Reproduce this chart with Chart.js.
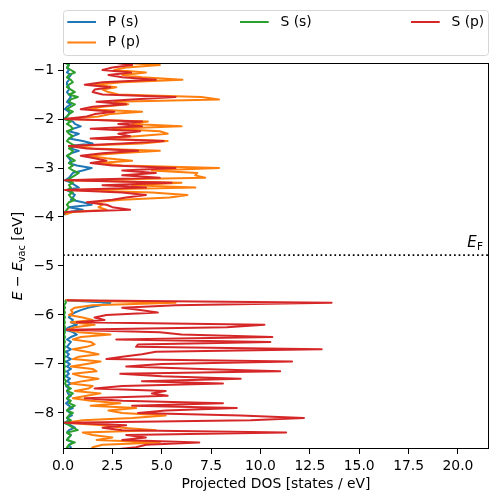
<!DOCTYPE html>
<html>
<head>
<meta charset="utf-8">
<script src="https://cdn.jsdelivr.net/npm/chart.js@4.4.1/dist/chart.umd.min.js"></script>
<style>
  html, body { margin: 0; padding: 0; background: #fff; }
  canvas { display: block; }
</style>
</head>
<body>
<canvas id="dosChart" width="498" height="502"></canvas>
<script>
// Energy grid (eV, relative to vacuum): valence band block, then deeper block
const energy = [
  -0.80, -0.85, -0.90, -0.95, -1.00, -1.05, -1.10, -1.15, -1.20, -1.25,
  -1.30, -1.35, -1.40, -1.45, -1.50, -1.55, -1.60, -1.65, -1.70, -1.75,
  -1.80, -1.85, -1.90, -1.95, -2.00, -2.05, -2.10, -2.15, -2.20, -2.25,
  -2.30, -2.35, -2.40, -2.45, -2.50, -2.55, -2.60, -2.65, -2.70, -2.75,
  -2.80, -2.85, -2.90, -2.95, -3.00, -3.05, -3.10, -3.15, -3.20, -3.25,
  -3.30, -3.35, -3.40, -3.45, -3.50, -3.55, -3.60, -3.65, -3.70, -3.75,
  -3.80, -3.85, -3.90, -3.95,
  -5.70, -5.75, -5.80, -5.85, -5.90, -5.95, -6.00, -6.05, -6.10, -6.15,
  -6.20, -6.25, -6.30, -6.35, -6.40, -6.45, -6.50, -6.55, -6.60, -6.65,
  -6.70, -6.75, -6.80, -6.85, -6.90, -6.95, -7.00, -7.05, -7.10, -7.15,
  -7.20, -7.25, -7.30, -7.35, -7.40, -7.45, -7.50, -7.55, -7.60, -7.65,
  -7.70, -7.75, -7.80, -7.85, -7.90, -7.95, -8.00, -8.05, -8.10, -8.15,
  -8.20, -8.25, -8.30, -8.35, -8.40, -8.45, -8.50, -8.55, -8.60, -8.65,
  -8.70, -8.75, -8.80
];

// P (s)
const pS = [
  0.2, 0.2, 0.3, 0.2, 0.3, 0.2, 0.4, 0.3, 0.3, 0.2,
  0.2, 0.3, 0.3, 0.2, 0.3, 0.4, 0.3, 0.2, 0.4, 0.2,
  0.1, 0.3, 0.3, 0.2, 0.05, 0.5, 0.6, 0.9, 0.5, 0.3,
  0.8, 0.5, 0.3, 1.0, 1.5, 0.3, 0.4, 0.8, 0.4, 0.2,
  0.3, 0.4, 0.3, 0.7, 1.45, 1.0, 0.5, 0.4, 0.3, 0.1,
  0.4, 0.6, 0.8, 0.2, 0.4, 0.6, 0.5, 0.4, 1.0, 1.45,
  0.3, 1.0, 0.3, 0.05,
  0.1, 2.4, 1.9, 1.3, 0.9, 0.6, 0.4, 0.3, 0.5, 0.4,
  0.7, 0.3, 0.1, 0.5, 0.7, 0.4, 0.2, 0.4, 0.3, 0.2,
  0.4, 0.15, 0.3, 0.2, 0.4, 0.15, 0.35, 0.2, 0.4, 0.2,
  0.3, 0.15, 0.35, 0.2, 0.4, 0.15, 0.3, 0.2, 0.25, 0.4,
  0.2, 0.3, 0.15, 0.3, 0.5, 0.2, 0.35, 0.45, 0.2, 0.3,
  0.05, 0.4, 0.6, 0.3, 0.2, 0.4, 0.3, 0.2, 0.5, 0.3,
  0.4, 0.3, 0.2
];

// P (p)
const pP = [
  2.5, 3.0, 4.9, 3.2, 2.6, 4.2, 3.0, 4.0, 6.05, 3.0,
  1.6, 2.7, 2.0, 2.3, 2.8, 7.0, 7.9, 2.6, 3.3, 2.0,
  1.3, 4.0, 2.4, 1.8, 0.2, 4.3, 3.5, 6.0, 2.5, 4.9,
  5.3, 3.7, 1.7, 5.3, 4.0, 0.6, 1.5, 4.9, 2.8, 1.2,
  2.2, 3.5, 1.8, 3.0, 7.9, 4.5, 6.8, 6.7, 7.2, 0.2,
  6.0, 3.5, 6.7, 0.3, 4.5, 6.3, 5.4, 3.0, 1.6, 2.0,
  1.8, 2.2, 0.5, 0.1,
  0.1, 5.7, 1.5, 0.6, 0.4, 0.5, 0.3, 1.0, 1.5, 0.4,
  1.6, 0.6, 0.2, 0.8, 2.4, 0.9, 0.5, 1.4, 1.6, 1.2,
  0.5, 1.2, 1.8, 0.8, 0.5, 1.9, 1.2, 0.4, 1.5, 1.7,
  0.5, 0.9, 1.8, 1.0, 0.4, 1.5, 1.3, 0.6, 1.9, 1.2,
  0.5, 1.4, 2.9, 1.4, 3.7, 2.3, 3.0, 5.2, 3.5, 1.0,
  0.1, 2.0, 3.0, 4.7, 1.0, 1.5, 2.5, 1.7, 4.9, 2.0,
  1.5, 1.4, 1.2
];

// S (s)
const sS = [
  0.2, 0.1, 0.3, 0.2, 0.4, 0.6, 0.3, 0.2, 0.4, 0.5,
  0.3, 0.2, 0.4, 0.6, 0.3, 0.75, 0.4, 0.3, 0.6, 0.4,
  0.2, 0.5, 0.3, 0.2, 0.1, 0.4, 0.2, 0.4, 0.5, 0.2,
  0.3, 0.5, 0.3, 0.2, 0.4, 0.6, 0.3, 0.5, 0.4, 0.2,
  0.4, 0.6, 0.3, 0.5, 0.3, 0.5, 0.8, 0.6, 0.4, 0.2,
  0.5, 0.3, 0.4, 0.2, 0.5, 0.3, 0.4, 0.6, 0.3, 0.2,
  0.3, 0.2, 0.1, 0.05,
  0.1, 0.15, 0.05, 0.1, 0.05, 0.1, 0.05, 0.1, 0.05, 0.1,
  0.05, 0.1, 0.05, 0.1, 0.05, 0.1, 0.05, 0.1, 0.05, 0.1,
  0.05, 0.1, 0.05, 0.1, 0.05, 0.1, 0.05, 0.1, 0.05, 0.1,
  0.05, 0.1, 0.05, 0.15, 0.1, 0.2, 0.4, 0.2, 0.5, 0.3,
  0.2, 0.4, 0.3, 0.6, 0.3, 0.2, 0.5, 0.3, 0.2, 0.4,
  0.1, 0.3, 0.5, 0.75, 0.2, 0.4, 0.3, 0.2, 0.6, 0.3,
  0.2, 0.4, 0.3
];

// S (p)
const sP = [
  2.0, 2.6, 3.5, 2.5, 2.0, 3.45, 2.3, 3.0, 4.7, 2.0,
  1.1, 2.4, 1.6, 1.5, 2.0, 5.7, 3.5, 1.7, 3.2, 1.5,
  0.9, 2.6, 1.6, 1.2, 0.1, 4.0, 2.8, 4.0, 1.4, 3.9,
  2.8, 3.4, 1.4, 5.1, 3.0, 0.3, 1.2, 3.8, 2.0, 0.9,
  1.6, 2.2, 1.4, 2.5, 5.7, 3.0, 4.7, 3.0, 4.9, 0.1,
  5.5, 2.0, 4.2, 0.1, 3.0, 4.2, 3.2, 2.5, 1.2, 2.2,
  2.5, 3.4, 0.1, 0.0,
  0.2, 13.6, 5.7, 3.0, 3.9, 4.8, 2.2, 1.6, 2.1, 0.7,
  10.2, 8.3, 0.2, 4.9, 6.0, 10.6, 2.7, 10.5, 3.8, 3.7,
  13.1, 4.7, 4.0, 3.0, 2.2, 11.6, 5.0, 3.2, 7.0, 11.0,
  2.9, 5.0, 9.0, 4.0, 8.1, 3.0, 1.6, 5.2, 4.5, 5.3,
  1.1, 3.0, 8.1, 3.5, 8.8, 5.2, 3.8, 9.0, 12.2, 9.5,
  0.1, 3.2, 2.0, 3.0, 11.3, 3.2, 4.2, 3.0, 6.9, 4.2,
  3.7, 2.5, 2.0
];

const fermiLevel = -4.78;
const xTicks = [0, 2.5, 5, 7.5, 10, 12.5, 15, 17.5, 20];
const yTicks = [-8, -7, -6, -5, -4, -3, -2, -1];
const xRange = [0, 21.57];
const yRange = [-8.735, -0.857];

const FONT = "'DejaVu Sans', sans-serif";
Chart.defaults.font.family = FONT;
Chart.defaults.color = '#000';

// build {x: DOS, y: E} points; break the line across the gap between blocks
function toPoints(dos) {
  const pts = [];
  energy.forEach((e, i) => {
    if (i > 0 && energy[i - 1] - e > 0.5) pts.push({ x: null, y: null });
    pts.push({ x: dos[i], y: e });
  });
  return pts;
}

const series = [
  { label: 'P (s)', data: pS, color: '#1f77b4', order: 4 },
  { label: 'P (p)', data: pP, color: '#ff7f0e', order: 3 },
  { label: 'S (s)', data: sS, color: '#2ca02c', order: 2 },
  { label: 'S (p)', data: sP, color: '#d62728', order: 1 }
];

const datasets = series.map(s => ({
  label: s.label,
  data: toPoints(s.data),
  borderColor: s.color,
  backgroundColor: s.color,
  borderWidth: 2,
  borderJoinStyle: 'round',
  showLine: true,
  pointRadius: 0,
  spanGaps: false,
  order: s.order
}));

// dotted Fermi level line
datasets.push({
  label: 'EF',
  data: [{ x: xRange[0], y: fermiLevel }, { x: xRange[1], y: fermiLevel }],
  borderColor: '#000',
  borderWidth: 1.7,
  borderDash: [1.7, 2.9],
  showLine: true,
  pointRadius: 0,
  order: 0
});

// legend columns, like matplotlib ncol=3
const legendColumns = [[0, 1], [2], [3]];

const decorations = {
  id: 'decorations',
  afterDraw(chart) {
    const { ctx, chartArea: a } = chart;
    const yScale = chart.scales.y;
    ctx.save();

    // axes frame
    ctx.strokeStyle = '#000';
    ctx.lineWidth = 1;
    ctx.strokeRect(a.left + 0.5, a.top + 0.5, a.right - a.left - 1, a.bottom - a.top - 1);

    // E_F label
    const yF = yScale.getPixelForValue(fermiLevel);
    ctx.fillStyle = '#000';
    ctx.textBaseline = 'alphabetic';
    ctx.font = '10.5px ' + FONT;
    const fW = ctx.measureText('F').width;
    ctx.textAlign = 'left';
    ctx.fillText('F', a.right - 6 - fW, yF - 5.5);
    ctx.font = 'italic 15px ' + FONT;
    ctx.textAlign = 'right';
    ctx.fillText('E', a.right - 6 - fW - 0.3, yF - 8);

    // x axis title
    ctx.font = '13.9px ' + FONT;
    ctx.textAlign = 'center';
    ctx.textBaseline = 'middle';
    ctx.fillText('Projected DOS [states / eV]', (a.left + a.right) / 2, 484.5);

    // y axis title: E − E_vac [eV]
    const parts = [
      { t: 'E', f: 'italic 13.9px ' + FONT, dy: 0 },
      { t: ' \u2212 ', f: '13.9px ' + FONT, dy: 0 },
      { t: 'E', f: 'italic 13.9px ' + FONT, dy: 0 },
      { t: 'vac', f: '9.7px ' + FONT, dy: 2.6 },
      { t: ' [eV]', f: '13.9px ' + FONT, dy: 0 }
    ];
    let total = 0;
    parts.forEach(p => { ctx.font = p.f; p.w = ctx.measureText(p.t).width; total += p.w; });
    ctx.save();
    ctx.translate(22, (a.top + a.bottom) / 2);
    ctx.rotate(-Math.PI / 2);
    ctx.textAlign = 'left';
    ctx.textBaseline = 'alphabetic';
    let cx = -total / 2;
    parts.forEach(p => {
      ctx.font = p.f;
      ctx.fillText(p.t, cx, p.dy);
      cx += p.w;
    });
    ctx.restore();

    // legend box
    const bx = a.left + 0.5, by = 10.5, bw = a.right - a.left - 1, bh = 45, r = 3;
    ctx.beginPath();
    ctx.moveTo(bx + r, by);
    ctx.arcTo(bx + bw, by, bx + bw, by + bh, r);
    ctx.arcTo(bx + bw, by + bh, bx, by + bh, r);
    ctx.arcTo(bx, by + bh, bx, by, r);
    ctx.arcTo(bx, by, bx + bw, by, r);
    ctx.closePath();
    ctx.fillStyle = 'rgba(255,255,255,0.8)';
    ctx.fill();
    ctx.strokeStyle = '#d6d6d6';
    ctx.lineWidth = 1;
    ctx.stroke();

    const colX = [67.3, 240, 411];
    const rowY = [22, 42.5];
    ctx.font = '13.9px ' + FONT;
    ctx.textAlign = 'left';
    ctx.textBaseline = 'middle';
    legendColumns.forEach((col, ci) => {
      col.forEach((di, ri) => {
        const s = series[di];
        ctx.strokeStyle = s.color;
        ctx.lineWidth = 2;
        ctx.beginPath();
        ctx.moveTo(colX[ci], rowY[ri]);
        ctx.lineTo(colX[ci] + 28.7, rowY[ri]);
        ctx.stroke();
        ctx.fillStyle = '#000';
        ctx.fillText(s.label, colX[ci] + 40.4, rowY[ri]);
      });
    });

    ctx.restore();
  }
};

const minus = v => String(v).replace('-', '\u2212');

new Chart(document.getElementById('dosChart'), {
  type: 'scatter',
  data: { datasets },
  options: {
    responsive: false,
    animation: false,
    devicePixelRatio: 1,
    events: [],
    layout: { padding: { top: 63, right: 9, bottom: 0, left: 0 } },
    plugins: {
      legend: { display: false },
      tooltip: { enabled: false }
    },
    scales: {
      x: {
        type: 'linear',
        position: 'bottom',
        min: xRange[0],
        max: xRange[1],
        afterFit: s => { s.height = 53; },
        afterBuildTicks: s => { s.ticks = xTicks.map(v => ({ value: v })); },
        grid: { display: true, drawOnChartArea: false, drawTicks: true, tickLength: 5, tickColor: '#000', tickWidth: 1 },
        border: { display: false },
        ticks: {
          autoSkip: false,
          maxRotation: 0,
          padding: 4,
          font: { size: 13.9 },
          color: '#000',
          callback: v => v.toFixed(1)
        }
      },
      y: {
        type: 'linear',
        position: 'left',
        min: yRange[0],
        max: yRange[1],
        afterFit: s => { s.width = 63; },
        afterBuildTicks: s => { s.ticks = yTicks.map(v => ({ value: v })); },
        grid: { display: true, drawOnChartArea: false, drawTicks: true, tickLength: 5, tickColor: '#000', tickWidth: 1 },
        border: { display: false },
        ticks: {
          autoSkip: false,
          padding: 4,
          font: { size: 13.9 },
          color: '#000',
          callback: v => minus(v)
        }
      }
    }
  },
  plugins: [decorations]
});
</script>
</body>
</html>
